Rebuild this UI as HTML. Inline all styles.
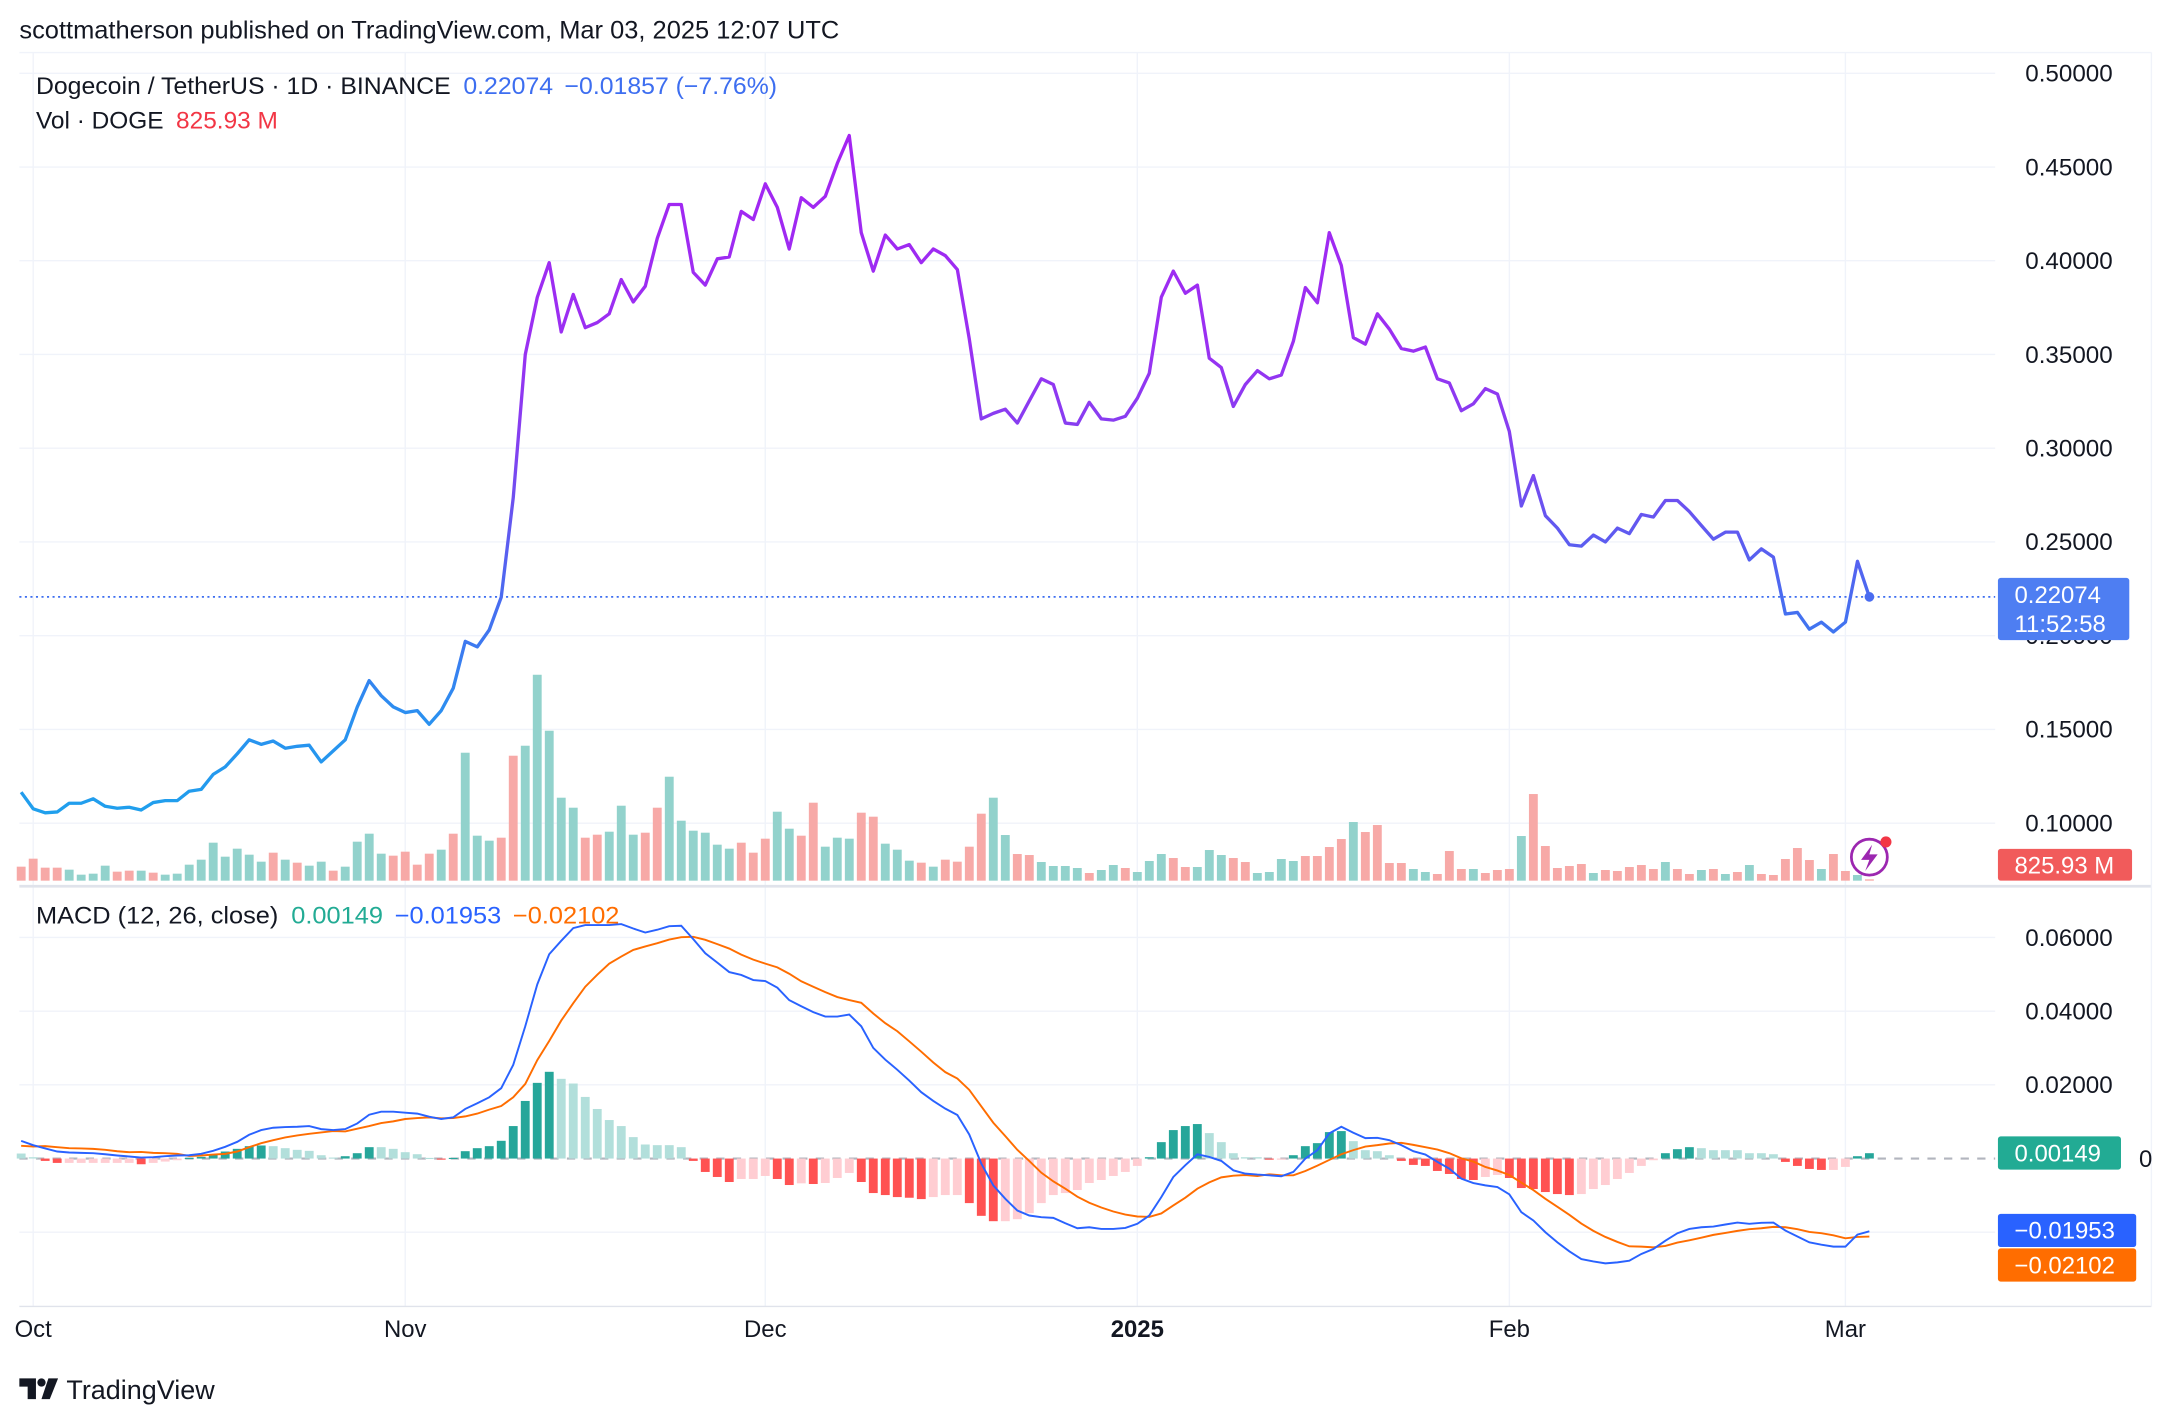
<!DOCTYPE html>
<html><head><meta charset="utf-8"><style>
html,body{margin:0;padding:0;background:#fff;}
svg{display:block;font-family:"Liberation Sans",sans-serif;}
</style></head><body>
<svg id="chart" xmlns="http://www.w3.org/2000/svg" width="2168" height="1424" viewBox="0 0 1568 1030" preserveAspectRatio="none">
<defs>
<linearGradient id="priceGrad" gradientUnits="userSpaceOnUse" x1="0" y1="100" x2="0" y2="600">
<stop offset="0" stop-color="#a424f2"/>
<stop offset="0.3" stop-color="#9a30f2"/>
<stop offset="0.46" stop-color="#8043f0"/>
<stop offset="0.56" stop-color="#6258f0"/>
<stop offset="0.68" stop-color="#466ef0"/>
<stop offset="0.84" stop-color="#2a90f0"/>
<stop offset="1" stop-color="#1ea2ec"/>
</linearGradient>
</defs>
<rect x="0" y="0" width="1568" height="1030" fill="#fff"/>
<text x="14" y="28" font-size="18" fill="#131722" textLength="593" lengthAdjust="spacingAndGlyphs">scottmatherson published on TradingView.com, Mar 03, 2025 12:07 UTC</text>
<g id="grid"></g>
<g id="vol"></g>
<g id="price"></g>
<g id="macdg"></g>
<g id="axes"></g>

<text x="26" y="68" font-size="17.3" fill="#131722" textLength="536" lengthAdjust="spacingAndGlyphs">Dogecoin / TetherUS · 1D · BINANCE <tspan fill="#3d6ef0" dx="4">0.22074</tspan><tspan fill="#3d6ef0" dx="8">−0.01857 (−7.76%)</tspan></text>
<text x="26" y="93" font-size="17.3" fill="#131722" textLength="175" lengthAdjust="spacingAndGlyphs">Vol · DOGE <tspan fill="#f23645" dx="4">825.93 M</tspan></text>
<text x="26" y="668" font-size="17.3" fill="#131722" textLength="422" lengthAdjust="spacingAndGlyphs">MACD (12, 26, close) <tspan fill="#22ab94" dx="4">0.00149</tspan><tspan fill="#2962ff" dx="8">−0.01953</tspan><tspan fill="#ff6d00" dx="8">−0.02102</tspan></text>

<g>
<circle cx="1352" cy="620" r="13" fill="#fff" stroke="#9c27b0" stroke-width="2"/>
<path d="M1354 611 L1346 622 L1352 622 L1349 630 L1358 618 L1352 618 Z" fill="#9c27b0"/>
<circle cx="1364" cy="609" r="4" fill="#f23645"/>
</g>

<g>
<path d="M14 997 h12 v15 h-6 v-9 h-6 z" fill="#131722"/>
<circle cx="30" cy="1000" r="3" fill="#131722"/>
<path d="M35 997 h7 l-6 15 h-6 z" fill="#131722"/>
<text x="48" y="1012" font-size="19.5" fill="#131722">TradingView</text>
</g>
</svg>
<script>
// ---- data ----
const dayLabels = ["Sep 30"]; // series begins Sep 30, 2024 (index 0), daily to Mar 3, 2025
const closePrices = [0.1165,0.1077,0.1055,0.106,0.1106,0.1106,0.113,0.109,0.108,0.1085,0.107,0.111,0.112,0.112,0.117,0.118,0.126,0.130,0.137,0.1445,0.142,0.1438,0.140,0.141,0.1416,0.1327,0.1386,0.1445,0.162,0.176,0.168,0.162,0.159,0.160,0.1527,0.160,0.172,0.197,0.194,0.203,0.2205,0.2736,0.350,0.3805,0.399,0.362,0.382,0.3643,0.367,0.3717,0.390,0.378,0.3864,0.412,0.430,0.430,0.3938,0.387,0.401,0.402,0.4263,0.422,0.441,0.4285,0.4063,0.4336,0.4285,0.4344,0.452,0.4668,0.415,0.3945,0.4137,0.4063,0.4086,0.399,0.4063,0.4027,0.3953,0.3584,0.3156,0.3186,0.3208,0.3134,0.3252,0.337,0.334,0.3134,0.3127,0.3245,0.3156,0.315,0.317,0.3267,0.340,0.3805,0.3945,0.3827,0.387,0.348,0.343,0.3223,0.334,0.3414,0.337,0.339,0.357,0.3857,0.3776,0.415,0.3975,0.359,0.3555,0.3717,0.3636,0.3532,0.3518,0.354,0.337,0.3348,0.32,0.3237,0.3318,0.3289,0.309,0.2692,0.2854,0.264,0.2574,0.2485,0.2478,0.2537,0.25,0.2574,0.2544,0.2647,0.2633,0.2721,0.2721,0.2662,0.2588,0.2515,0.2552,0.2552,0.2404,0.2463,0.2419,0.2116,0.2124,0.2035,0.2072,0.202,0.2072,0.2397,0.2207];
const volumes = [42,66,39,39,33,18,21,45,27,30,30,24,18,21,48,63,114,72,96,78,57,84,63,54,45,57,30,42,117,141,81,75,87,48,81,93,141,384,135,120,129,375,405,618,450,249,219,129,138,147,225,138,144,219,312,180,150,144,108,96,114,84,126,207,156,135,234,102,129,126,204,192,111,93,60,54,42,63,57,102,201,249,137,80,77,56,44,44,38,23,32,47,38,26,59,80,68,41,41,92,77,68,56,23,26,65,59,74,74,101,125,176,146,167,53,53,35,26,20,89,35,35,23,32,35,134,260,104,38,44,50,23,32,29,41,47,35,56,35,20,32,35,20,26,47,20,17,65,98,62,35,80,29,17,4];
const volumeDirection = "dddduuuudduduuuuuuuuududuuduuuudddduduuudduuuuudduuudduuuuuuddduudduuudduuududddduudduuuuduuduuudduuudduuuuddddudddduuddduddduddddduddddduddudududdddduddudduudduddu";
const macdValues = [53,40,30,21,18,17,16,13,9,6,3,4,7,9,10,14,23,35,50,71,85,92,94,95,97,88,85,88,105,131,140,140,137,134,125,118,123,148,165,183,210,280,395,520,610,650,688,697,697,697,700,687,675,683,694,695,655,613,585,557,548,533,530,510,473,455,437,424,424,430,395,330,295,265,233,198,172,149,130,72,-15,-80,-120,-155,-170,-175,-177,-193,-208,-205,-210,-210,-207,-195,-170,-115,-55,-20,13,5,-7,-35,-45,-48,-50,-53,-40,0,25,75,95,77,61,62,55,40,22,12,-10,-30,-60,-73,-80,-85,-107,-160,-185,-220,-250,-277,-300,-307,-313,-310,-305,-285,-270,-245,-223,-210,-205,-203,-197,-191,-195,-192,-191,-215,-233,-250,-257,-263,-263,-227,-217];
const histValues = [15,4,-7,-13,-13,-13,-13,-13,-13,-13,-17,-13,-9,-5,2,5,11,21,29,37,39,37,31,26,23,10,3,7,16,34,34,29,19,13,2,-2,2,22,31,37,53,97,172,226,259,238,224,184,148,115,97,64,42,40,40,34,-7,-40,-55,-70,-61,-61,-52,-61,-79,-74,-76,-73,-58,-43,-70,-103,-109,-115,-117,-121,-115,-109,-109,-133,-171,-187,-187,-181,-163,-133,-109,-103,-94,-73,-64,-52,-40,-22,4,49,85,97,103,76,49,16,4,4,-3,-3,10,37,46,79,82,52,25,22,10,-7,-19,-22,-37,-46,-61,-64,-55,-49,-58,-88,-91,-100,-106,-109,-106,-91,-79,-61,-43,-22,-5,16,28,34,31,25,25,25,16,16,13,-10,-22,-31,-34,-34,-25,7,16];
const MACD_UNIT = 1/11000; // raw reading units -> MACD value
const priceTicks = [0.10,0.15,0.20,0.25,0.30,0.35,0.40,0.45,0.50];
const macdTicks = [-0.02,0.02,0.04,0.06];
const monthLabels = ["Oct","Nov","Dec","2025","Feb","Mar"];
const monthDayIndex = [1,32,62,93,124,152];
const badgeLabels = ["0.22074","11:52:58","825.93 M","0.00149","−0.01953","−0.02102"];

// ---- scales ----
const NS="http://www.w3.org/2000/svg";
const xOf = i => 24 + 8.68*(i-1);
const yPrice = p => 53 + (0.5-p)*1356;
const yVol = v => 637 - v*0.241;
const yMacd = v => 838 - v*2665;
function mk(tag, attrs, parent){const e=document.createElementNS(NS,tag);for(const k in attrs)e.setAttribute(k,attrs[k]);parent.appendChild(e);return e;}

const grid=document.getElementById('grid');
const axes=document.getElementById('axes');
monthDayIndex.forEach((d,k)=>{
  const l=mk('line',{x1:xOf(d),x2:xOf(d),y1:38,y2:945,stroke:'#f0f3fa','stroke-width':1},grid);
  
  
  const t=mk('text',{x:xOf(d),y:967,'font-size':17.3,fill:'#131722','text-anchor':'middle','font-weight':monthLabels[k]==='2025'?'bold':'normal'},axes);
  t.textContent=monthLabels[k];
  
  
});
priceTicks.forEach(p=>{
  const y=yPrice(p);
  if(y<630){const l=mk('line',{x1:14,x2:1443,y1:y,y2:y,stroke:'#f0f3fa'},grid);
  
  }
  const t=mk('text',{x:1528,y:y+6,'font-size':17.5,fill:'#131722','text-anchor':'end'},axes);
  t.textContent=p.toFixed(5);
  
  
});
macdTicks.forEach(v=>{
  const y=yMacd(v);
  const l=mk('line',{x1:14,x2:1443,y1:y,y2:y,stroke:'#f0f3fa'},grid);
  
  
  const t=mk('text',{x:1528,y:y+6,'font-size':17.5,fill:'#131722','text-anchor':'end'},axes);
  t.textContent=v.toFixed(5);
  
  
});
[[38,'#f0f3fa'],[641,'#e0e3eb'],[945,'#e0e3eb']].forEach(([y,c])=>{
  const l=mk('line',{x1:14,x2:1556,y1:y,y2:y,stroke:c,'stroke-width':y===641?2:1},grid);
  
  
});
const vl=mk('line',{x1:1556,x2:1556,y1:38,y2:945,stroke:'#f0f3fa'},grid);



const volG=document.getElementById('vol');
volumes.forEach((v,i)=>{
  const up=volumeDirection[i]==='u';
  const r=mk('rect',{x:xOf(i)-3.2,y:yVol(v),width:6.4,height:637-yVol(v),fill:up?'#92d2cc':'#f7a9a7'},volG);
  
  
});

const pg=document.getElementById('price');
const lastI=closePrices.length-1, lastY=yPrice(closePrices[lastI]);
const dl=mk('line',{x1:14,x2:1443,y1:lastY,y2:lastY,stroke:'#3d6ef0','stroke-width':1.2,'stroke-dasharray':'1.5 2.5'},pg);


const pts=closePrices.map((p,i)=>xOf(i).toFixed(1)+','+yPrice(p).toFixed(1)).join(' ');
const pl=mk('polyline',{points:pts,fill:'none',stroke:'url(#priceGrad)','stroke-width':2.4,'stroke-linejoin':'round'},pg);


const dot=mk('circle',{cx:xOf(lastI),cy:lastY,r:3.5,fill:'#4a6cf0'},pg);



const mg=document.getElementById('macdg');
const zl=mk('line',{x1:14,x2:1443,y1:yMacd(0),y2:yMacd(0),stroke:'#b2b5be','stroke-width':1.5,'stroke-dasharray':'6 6'},mg);


histValues.forEach((h,i)=>{
  const v=h*MACD_UNIT, prev=i>0?histValues[i-1]:h;
  let c;
  if(h>=0) c = h>prev ? '#26a69a' : '#b2dfdb';
  else c = h<prev ? '#ff5252' : '#ffcdd2';
  const y0=yMacd(0), y1=yMacd(v);
  const r=mk('rect',{x:xOf(i)-3.2,y:Math.min(y0,y1),width:6.4,height:Math.max(0.8,Math.abs(y1-y0)),fill:c},mg);
  
  
});
const signalValues = macdValues.map((m,i)=>m-histValues[i]);
const sp=mk('polyline',{points:signalValues.map((v,i)=>xOf(i).toFixed(1)+','+yMacd(v*MACD_UNIT).toFixed(1)).join(' '),fill:'none',stroke:'#ff6d00','stroke-width':1.4},mg);


const mp=mk('polyline',{points:macdValues.map((v,i)=>xOf(i).toFixed(1)+','+yMacd(v*MACD_UNIT).toFixed(1)).join(' '),fill:'none',stroke:'#2962ff','stroke-width':1.4},mg);



function badge(name,x,y,w,h,bg,lines){
  const g=mk('g',{},axes);
  
  
  mk('rect',{x:x,y:y,width:w,height:h,rx:2,fill:bg},g);
  lines.forEach((s,k)=>{const t=mk('text',{x:x+12,y:y+18+k*21,'font-size':17.3,fill:'#fff'},g);t.textContent=s;});
}
badge('last-price-badge',1445,418,95,45,'#4e7ef2',[badgeLabels[0],badgeLabels[1]]);
badge('volume-badge',1445,614,97,23,'#f15b5b',[badgeLabels[2]]);
badge('histogram-badge',1445,822,89,24,'#22ab94',[badgeLabels[3]]);
badge('macd-badge',1445,878,100,24,'#2962ff',[badgeLabels[4]]);
badge('signal-badge',1445,903,100,24,'#ff6d00',[badgeLabels[5]]);
const zt=mk('text',{x:1547,y:844,'font-size':17.3,fill:'#131722'},axes);
zt.textContent='0';


</script>
</body></html>
